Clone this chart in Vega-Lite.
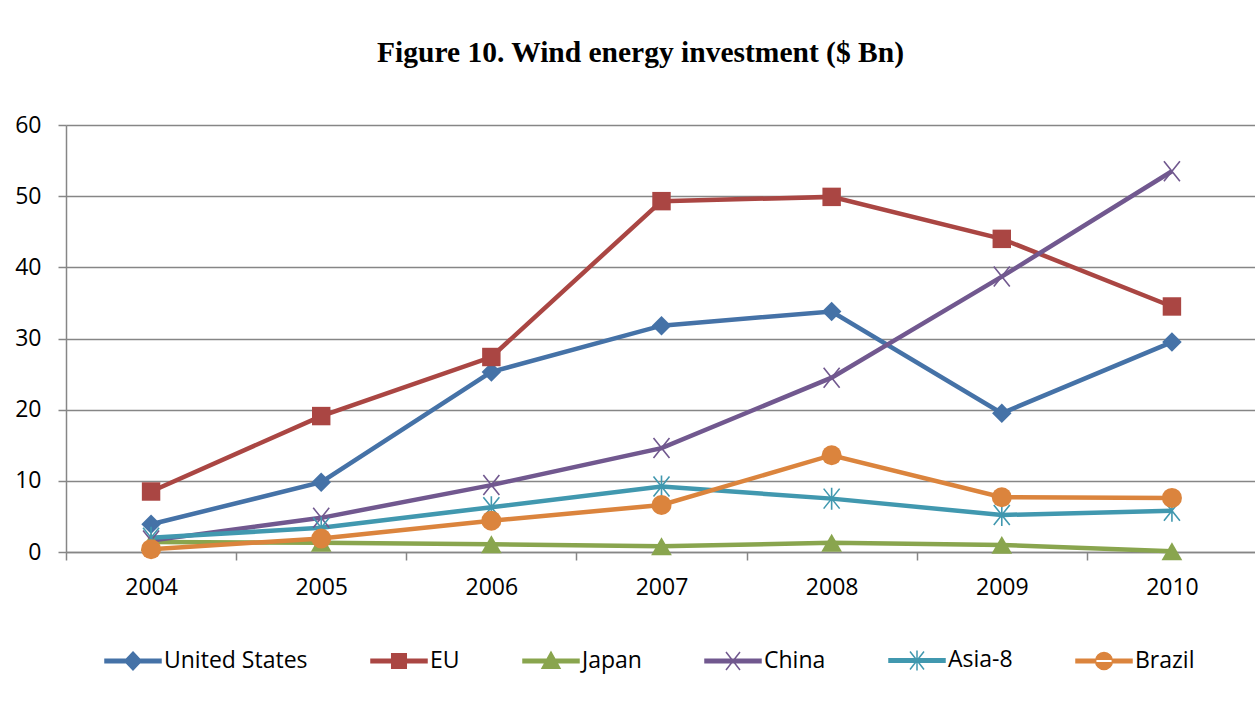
{
  "$schema": "https://vega.github.io/schema/vega-lite/v6.json",
  "width": 1191,
  "height": 427,
  "autosize": "none",
  "padding": {"left": 66, "top": 125, "right": 0, "bottom": 152},
  "background": "white",
  "title": {
    "text": "Figure 10. Wind energy investment ($ Bn)",
    "font": "Liberation Serif",
    "fontSize": 29.5,
    "fontWeight": "bold",
    "color": "black",
    "anchor": "middle",
    "frame": "group",
    "dx": -21,
    "baseline": "alphabetic",
    "offset": 23
  },
  "config": {
    "view": {"stroke": null},
    "axis": {
      "labelFont": "Open Sans",
      "labelFontSize": 23,
      "labelColor": "black",
      "domainColor": "#868686",
      "domainWidth": 1.5,
      "tickColor": "#868686",
      "tickWidth": 1.5,
      "tickSize": 8,
      "gridColor": "#868686",
      "gridWidth": 1.5,
      "title": null
    }
  },
  "data": {
    "values": [
      {"year": "2004", "series": "United States", "value": 3.9},
      {"year": "2005", "series": "United States", "value": 9.8},
      {"year": "2006", "series": "United States", "value": 25.3},
      {"year": "2007", "series": "United States", "value": 31.8},
      {"year": "2008", "series": "United States", "value": 33.8},
      {"year": "2009", "series": "United States", "value": 19.5},
      {"year": "2010", "series": "United States", "value": 29.5},
      {"year": "2004", "series": "EU", "value": 8.5},
      {"year": "2005", "series": "EU", "value": 19.1},
      {"year": "2006", "series": "EU", "value": 27.4},
      {"year": "2007", "series": "EU", "value": 49.3},
      {"year": "2008", "series": "EU", "value": 49.9},
      {"year": "2009", "series": "EU", "value": 44.0},
      {"year": "2010", "series": "EU", "value": 34.5},
      {"year": "2004", "series": "Japan", "value": 1.4},
      {"year": "2005", "series": "Japan", "value": 1.3},
      {"year": "2006", "series": "Japan", "value": 1.1},
      {"year": "2007", "series": "Japan", "value": 0.8},
      {"year": "2008", "series": "Japan", "value": 1.3},
      {"year": "2009", "series": "Japan", "value": 1.0},
      {"year": "2010", "series": "Japan", "value": 0.1},
      {"year": "2004", "series": "China", "value": 1.6},
      {"year": "2005", "series": "China", "value": 4.8},
      {"year": "2006", "series": "China", "value": 9.4},
      {"year": "2007", "series": "China", "value": 14.6},
      {"year": "2008", "series": "China", "value": 24.5},
      {"year": "2009", "series": "China", "value": 38.7},
      {"year": "2010", "series": "China", "value": 53.5},
      {"year": "2004", "series": "Asia-8", "value": 2.0},
      {"year": "2005", "series": "Asia-8", "value": 3.4},
      {"year": "2006", "series": "Asia-8", "value": 6.3},
      {"year": "2007", "series": "Asia-8", "value": 9.2},
      {"year": "2008", "series": "Asia-8", "value": 7.5},
      {"year": "2009", "series": "Asia-8", "value": 5.2},
      {"year": "2010", "series": "Asia-8", "value": 5.8},
      {"year": "2004", "series": "Brazil", "value": 0.4},
      {"year": "2005", "series": "Brazil", "value": 1.9},
      {"year": "2006", "series": "Brazil", "value": 4.4},
      {"year": "2007", "series": "Brazil", "value": 6.6},
      {"year": "2008", "series": "Brazil", "value": 13.6},
      {"year": "2009", "series": "Brazil", "value": 7.7},
      {"year": "2010", "series": "Brazil", "value": 7.6}
    ]
  },
  "encoding": {
    "x": {
      "field": "year",
      "type": "ordinal",
      "scale": {"type": "band", "paddingInner": 0, "paddingOuter": 0},
      "axis": {"labelAngle": 0, "tickBand": "extent", "labelPadding": 16, "grid": false}
    },
    "y": {
      "field": "value",
      "type": "quantitative",
      "scale": {"domain": [0, 60], "nice": false},
      "axis": {"values": [0, 10, 20, 30, 40, 50, 60], "labelPadding": 17, "grid": true}
    },
    "color": {
      "field": "series",
      "type": "nominal",
      "scale": {
        "domain": ["United States", "EU", "Japan", "China", "Asia-8", "Brazil"],
        "range": ["#4572A7", "#AA4643", "#89A54E", "#71588F", "#4198AF", "#DB843D"]
      },
      "legend": {
        "orient": "none",
        "legendX": 38,
        "legendY": 506,
        "direction": "horizontal",
        "columns": 6,
        "columnPadding": 60,
        "title": null,
        "labelFont": "Open Sans",
        "labelFontSize": 23,
        "labelColor": "black",
        "labelOffset": 2,
        "symbolSize": 3136,
        "encode": {
          "symbols": {
            "update": {
              "shape": {"signal": "datum.value === 'United States' ? 'M-1,-0.06H1V0.06H-1Z M0,-0.32L0.3,0L0,0.32L-0.3,0Z' : datum.value === 'EU' ? 'M-1,-0.06H1V0.06H-1Z M-0.26,-0.26H0.26V0.26H-0.26Z' : datum.value === 'Japan' ? 'M-1,-0.06H1V0.06H-1Z M0,-0.32L0.32,0.26H-0.32Z' : datum.value === 'China' ? 'M-1,-0.06H1V0.06H-1Z M-0.25,-0.32L0.25,0.32M-0.25,0.32L0.25,-0.32' : datum.value === 'Asia-8' ? 'M-1,-0.06H1V0.06H-1Z M-0.25,-0.32L0.25,0.32M-0.25,0.32L0.25,-0.32M0,-0.36V0.36' : 'M-1,-0.06H1V0.06H-1Z M-0.3,0A0.3,0.3 0 1,0 0.3,0A0.3,0.3 0 1,0 -0.3,0Z'"},
              "fill": {"scale": "color", "field": "value"},
              "stroke": {"scale": "color", "field": "value"},
              "strokeWidth": {"value": 1.5},
              "fillOpacity": {"value": 1},
              "strokeOpacity": {"value": 1},
              "opacity": {"value": 1},
              "size": {"value": 3136}
            }
          }
        }
      }
    }
  },
  "layer": [
    {
      "mark": {"type": "line", "strokeWidth": 4.5},
      "encoding": {}
    },
    {
      "transform": [{"filter": "datum.series === 'United States'"}],
      "mark": {"type": "point", "filled": true, "opacity": 1, "shape": "diamond", "size": 380}
    },
    {
      "transform": [{"filter": "datum.series === 'EU'"}],
      "mark": {"type": "point", "filled": true, "opacity": 1, "shape": "square", "size": 340}
    },
    {
      "transform": [{"filter": "datum.series === 'Japan'"}],
      "mark": {"type": "point", "filled": true, "opacity": 1, "shape": "triangle-up", "size": 430}
    },
    {
      "transform": [{"filter": "datum.series === 'China'"}],
      "mark": {"type": "point", "filled": false, "opacity": 1, "strokeWidth": 1.6, "shape": "M-0.8,-1L0.8,1M-0.8,1L0.8,-1", "size": 400}
    },
    {
      "transform": [{"filter": "datum.series === 'Asia-8'"}],
      "mark": {"type": "point", "filled": false, "opacity": 1, "strokeWidth": 1.6, "shape": "M-0.8,-1L0.8,1M-0.8,1L0.8,-1M0,-1.1V1.1", "size": 400}
    },
    {
      "transform": [{"filter": "datum.series === 'Brazil'"}],
      "mark": {"type": "point", "filled": true, "opacity": 1, "shape": "circle", "size": 400}
    }
  ]
}
